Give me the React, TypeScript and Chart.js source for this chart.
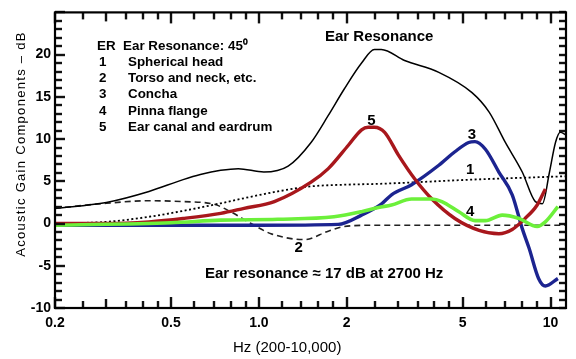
import React, { useEffect, useRef } from 'react';
import { Chart, registerables } from 'chart.js';
Chart.register(...registerables);

// Total ear resonance (black solid)
const totalFreq = [0.2, 0.3, 0.42, 0.55, 0.63, 0.74, 0.85, 1.04, 1.26, 1.51, 1.73, 1.96, 2.25, 2.49, 2.63, 3.16, 4.14, 5.38, 6.16, 7.0, 8.0, 8.87, 9.38, 9.92, 10.4, 10.8, 11.3];
const totalGain = [1.8, 2.5, 3.8, 5.2, 5.8, 6.3, 6.5, 6.1, 6.8, 9.6, 12.8, 15.9, 19.0, 20.6, 20.6, 19.3, 17.9, 15.5, 13.2, 9.6, 6.1, 2.6, 2.35, 6.1, 9.6, 10.8, 10.5];

// 1 Spherical head (dotted)
const headFreq = [0.2, 0.3, 0.42, 0.55, 0.74, 0.89, 1.16, 1.51, 1.96, 2.57, 5.38, 11.3];
const headGain = [0, 0.2, 0.8, 1.5, 2.4, 3.0, 3.8, 4.4, 4.6, 4.7, 5.2, 5.6];

// 2 Torso and neck (dashed)
const torsoFreq = [0.2, 0.3, 0.42, 0.55, 0.7, 0.8, 0.94, 1.1, 1.43, 1.73, 1.96, 2.5, 11.3];
const torsoGain = [1.8, 2.4, 2.7, 2.6, 2.3, 1.4, 0, -1.2, -1.9, -0.9, -0.35, -0.2, -0.2];

// 3 Concha (blue)
const conchaFreq = [0.2, 1.0, 1.87, 2.25, 2.63, 2.85, 3.34, 4.14, 4.7, 5.24, 5.51, 5.98, 6.65, 7.39, 8.0, 8.44, 9.1, 9.6, 10.6];
const conchaGain = [-0.2, -0.2, -0.1, 1.0, 2.3, 3.4, 4.6, 6.9, 8.5, 9.6, 9.7, 8.8, 6.1, 3.4, -0.6, -2.9, -6.5, -7.4, -6.5];

// 4 Pinna flange (green)
const pinnaFreq = [0.2, 0.5, 0.74, 1.16, 1.81, 2.25, 2.57, 2.85, 3.34, 3.92, 4.24, 4.85, 5.51, 5.98, 6.83, 7.8, 9.0, 9.6, 10.6];
const pinnaGain = [-0.2, 0.1, 0.4, 0.5, 0.8, 1.4, 1.9, 2.2, 2.9, 2.9, 2.6, 1.4, 0.35, 0.35, 1.0, 0.6, -0.35, 0.2, 2.0];

// 5 Ear canal and eardrum (red)
const canalFreq = [0.2, 0.3, 0.42, 0.55, 0.74, 0.89, 1.13, 1.51, 1.73, 2.03, 2.25, 2.37, 2.49, 2.7, 3.01, 3.42, 3.92, 4.7, 5.69, 6.65, 7.39, 8.18, 9.0, 9.6];
const canalGain = [0, 0, 0.2, 0.6, 1.2, 1.8, 2.6, 4.9, 6.5, 9.3, 11.1, 11.4, 11.4, 10.8, 8.1, 5.3, 2.9, 0.6, -0.8, -1.2, -0.7, 0.6, 2.2, 4.1];

// Axis ticks
const xTickValues = [0.2, 0.5, 1, 2, 5, 10];
const xTickLabels = ['0.2', '0.5', '1.0', '2', '5', '10'];
const xMinorTicks = [0.25, 0.3, 0.35, 0.4, 0.45, 0.6, 0.7, 0.8, 0.9, 1.2, 1.4, 1.6, 1.8, 2.5, 3, 3.5, 4, 4.5, 6, 7, 8, 9];
const yTickValues = [-10, -5, 0, 5, 10, 15, 20];
const yTickLabels = ['-10', '-5', '0', '5', '10', '15', '20'];

// Legend text
const legendNumbers = ['1', '2', '3', '4', '5'];
const legendNames = ['Spherical head', 'Torso and neck, etc.', 'Concha', 'Pinna flange', 'Ear canal and eardrum'];

// Curve labels (placed at data coordinates)
const curveLabelText = ['5', '3', '1', '2', '4'];
const curveLabelFreq = [2.43, 5.38, 5.3, 1.37, 5.3];
const curveLabelGain = [12.2, 10.5, 6.35, -2.9, 1.4];

const FONT = '"Liberation Sans", Arial, Helvetica, sans-serif';

export default function App() {
  const ref = useRef<HTMLCanvasElement>(null);
  useEffect(() => {
    const canvas = ref.current!;
    const pts = (xs: number[], ys: number[]) => xs.map((x, i) => ({ x, y: ys[i] }));

    const framePlugin = {
      id: 'frame',
      afterDraw(chart: any) {
        const ctx: CanvasRenderingContext2D = chart.ctx;
        const a = chart.chartArea;
        const xs = chart.scales.x, ys = chart.scales.y;
        ctx.save();
        ctx.fillStyle = '#111111';
        const w = 2.4;
        // y ticks (left and right)
        for (let v = -10; v <= 25; v++) {
          const y = Math.round(ys.getPixelForValue(v));
          const len = v % 5 === 0 ? 10 : 7;
          ctx.fillRect(a.left, y - w / 2, len, w);
          ctx.fillRect(a.right - 7, y - w / 2, 7, w);
        }
        // x ticks (bottom and top)
        for (const v of [...xTickValues, ...xMinorTicks]) {
          const len = xTickValues.includes(v) ? 11 : v === 0.3 ? 9 : 7;
          const x = Math.round(xs.getPixelForValue(v));
          ctx.fillRect(x - w / 2, a.bottom - len, w, len);
          ctx.fillRect(x - w / 2, a.top, w, len);
        }
        // frame
        ctx.strokeStyle = '#000000';
        ctx.setLineDash([]);
        ctx.lineWidth = 2.2;
        ctx.strokeRect(a.left, a.top, a.right - a.left, a.bottom - a.top);

        ctx.fillStyle = '#000000';
        ctx.textBaseline = 'middle';
        ctx.textAlign = 'left';
        // legend block
        ctx.font = `bold 13.4px ${FONT}`;
        ctx.fillText('ER', 97, 46);
        ctx.fillText('Ear Resonance: 45⁰', 123, 46);
        legendNumbers.forEach((n, i) => {
          const y = 62 + i * 16.3;
          ctx.fillText(n, 99, y);
          ctx.fillText(legendNames[i], 128, y);
        });
        // titles
        ctx.font = `bold 15px ${FONT}`;
        ctx.fillText('Ear Resonance', 325, 37);
        ctx.fillText('Ear resonance ≈ 17 dB at 2700 Hz', 205, 274);
        // curve labels
        ctx.textAlign = 'center';
        curveLabelText.forEach((t, i) => {
          ctx.fillText(t, xs.getPixelForValue(curveLabelFreq[i]), ys.getPixelForValue(curveLabelGain[i]));
        });
        // axis titles
        ctx.textAlign = 'left';
        ctx.font = `15px ${FONT}`;
        ctx.fillText('Hz (200-10,000)', 233, 348);
        ctx.save();
        ctx.translate(21, 144);
        ctx.rotate(-Math.PI / 2);
        ctx.textAlign = 'center';
        ctx.font = `13px ${FONT}`;
        (ctx as any).letterSpacing = '1.3px';
        ctx.fillText('Acoustic Gain Components – dB', 0, 0);
        ctx.restore();
        ctx.restore();
      },
    };

    const chart = new Chart(canvas, {
      type: 'line',
      data: {
        datasets: [
          { label: '4', data: pts(pinnaFreq, pinnaGain), borderColor: '#6cf03a', borderWidth: 3.6 },
          { label: '5', data: pts(canalFreq, canalGain), borderColor: '#a8171c', borderWidth: 3.4 },
          { label: '3', data: pts(conchaFreq, conchaGain), borderColor: '#1c2490', borderWidth: 3.4 },
          { label: 'ER', data: pts(totalFreq, totalGain), borderColor: '#000', borderWidth: 1.5 },
          { label: '1', data: pts(headFreq, headGain), borderColor: '#000', borderWidth: 1.8, borderDash: [2, 2.5] },
          { label: '2', data: pts(torsoFreq, torsoGain), borderColor: '#222', borderWidth: 1.6, borderDash: [6, 4] },
        ] as any,
      },
      options: {
        animation: false,
        responsive: false,
        maintainAspectRatio: false,
        layout: { padding: { top: 10, right: 10, left: 0, bottom: 0 } },
        plugins: { legend: { display: false }, tooltip: { enabled: false } },
        elements: { point: { radius: 0 }, line: { cubicInterpolationMode: 'monotone', fill: false } },
        scales: {
          x: {
            type: 'logarithmic',
            min: 0.2,
            max: 11.3,
            afterBuildTicks: (s: any) => { s.ticks = xTickValues.map(v => ({ value: v })); },
            afterFit: (s: any) => { s.height = 51; },
            ticks: {
              autoSkip: false, maxRotation: 0, minRotation: 0, padding: 7, color: '#000',
              font: { family: FONT, size: 14, weight: 'bold' },
              callback: (_v: any, i: number) => xTickLabels[i],
            },
            grid: { display: false, drawTicks: false },
            border: { display: false },
          },
          y: {
            type: 'linear',
            min: -10,
            max: 25,
            afterBuildTicks: (s: any) => { s.ticks = yTickValues.map(v => ({ value: v })); },
            afterFit: (s: any) => { s.width = 55; },
            ticks: {
              padding: 4, color: '#000',
              font: { family: FONT, size: 14, weight: 'bold' },
              callback: (_v: any, i: number) => yTickLabels[i],
            },
            grid: { display: false, drawTicks: false },
            border: { display: false },
          },
        },
      } as any,
      plugins: [framePlugin],
    });
    return () => chart.destroy();
  }, []);
  return (
    <div style={{ position: 'fixed', left: 0, top: 0, width: 576, height: 359, background: '#fff' }}>
      <canvas ref={ref} width={576} height={359} style={{ width: 576, height: 359, display: 'block' }} />
    </div>
  );
}
